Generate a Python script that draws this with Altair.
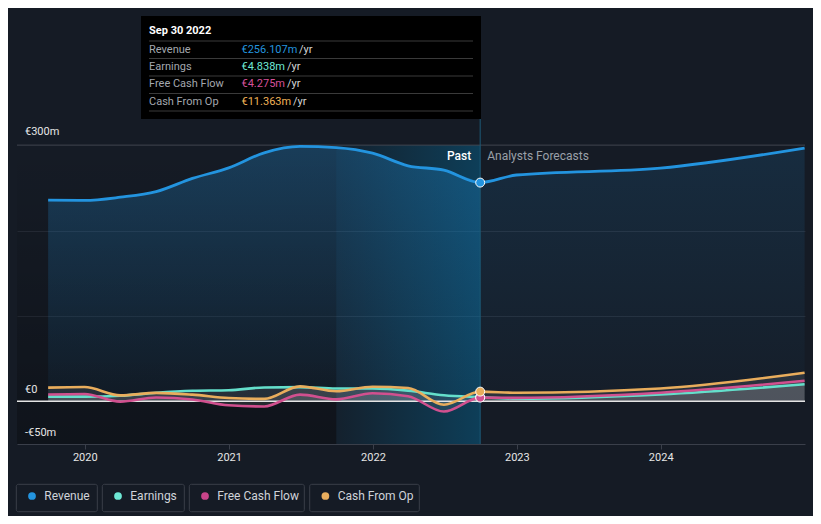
import altair as alt
import pandas as pd

# ---------------- data ----------------
dates = ["2019-09-30", "2019-12-31", "2020-03-31", "2020-06-30", "2020-09-30",
         "2020-12-31", "2021-03-31", "2021-06-30", "2021-09-30", "2021-12-31",
         "2022-03-31", "2022-06-30", "2022-09-30", "2022-12-31", "2023-12-31",
         "2024-12-31"]
revenue = [235.5, 235.3, 239.0, 245.5, 261.0, 273.4, 291.0, 298.5, 297.0, 290.5,
           275.8, 270.7, 256.107, 265.0, 273.0, 296.5]
earnings = [5.5, 5.5, 6.5, 10.0, 12.3, 13.0, 16.2, 16.6, 15.0, 15.0,
            12.5, 7.0, 4.838, 3.0, 8.0, 20.0]
free_cash_flow = [8.0, 8.6, -0.5, 4.5, 2.2, -4.7, -6.0, 7.8, 2.3, 9.4,
                  6.0, -12.0, 4.275, 4.0, 10.0, 24.0]
cash_from_op = [16.0, 16.7, 7.0, 9.9, 7.8, 3.9, 2.8, 17.5, 11.7, 17.0,
                15.6, -4.0, 11.363, 10.0, 15.0, 33.5]

series_names = ["Revenue", "Earnings", "Free Cash Flow", "Cash From Op"]
series_colors = ["#2394df", "#64dfcb", "#d1508f", "#e9ad5c"]
legend_colors = ["#2394df", "#6ee8d5", "#c8448a", "#e9ae5e"]

year_ticks = [2020, 2021, 2022, 2023, 2024]
grid_values = [100, 200]
y_label_text = ["€300m", "€0", "-€50m"]
y_label_values = [300, 0, -50]

domain_start = "2019-07-13"
highlight_start = "2021-09-30"
past_end = "2022-09-30"
tip_title = "Sep 30 2022"
tip_values = ["€256.107m", "€4.838m", "€4.275m", "€11.363m"]
tip_value_colors = ["#2394df", "#6ee8d5", "#d6509a", "#f0b257"]

FONT = "Roboto"
BG = "#151b25"

df = pd.DataFrame({"date": dates, "Revenue": revenue, "Earnings": earnings,
                   "Free Cash Flow": free_cash_flow, "Cash From Op": cash_from_op})
past_df = df[df["date"] <= past_end]
fut_df = df[df["date"] >= past_end]
last_df = df[df["date"] == past_end]

xscale = alt.Scale(domain=[alt.DateTime(year=2019, month=7, date=13),
                           alt.DateTime(year=2025, month=1, date=1)], nice=False)
yscale = alt.Scale(domain=[-50, 451.2], nice=False, zero=False)
xaxis = alt.Axis(values=[alt.DateTime(year=y, month=1, date=1) for y in year_ticks],
                 format="%Y", labelColor="#e6e6e6", labelFontSize=11, labelFont=FONT,
                 tickColor="#3a3f4a", tickSize=5, domainColor="#3a3f4a",
                 grid=False, labelPadding=2, title=None)
yaxis = alt.Axis(values=grid_values, grid=True, gridColor="#262c37", labels=False,
                 ticks=False, domain=False, title=None)


def X(field):
    return alt.X(f"{field}:T", scale=xscale, axis=xaxis)


def Y(field):
    return alt.Y(f"{field}:Q", scale=yscale, axis=yaxis, stack=None)


layers = []

# dark past region
past_rect = pd.DataFrame({"a": [domain_start], "b": [highlight_start], "t": [300], "u": [-50]})
layers.append(alt.Chart(past_rect).mark_rect(
    color=alt.Gradient(gradient="linear", x1=0, x2=0, y1=0, y2=1,
                       stops=[alt.GradientStop(color="rgba(0,0,0,0)", offset=0),
                              alt.GradientStop(color="rgba(0,0,0,0.28)", offset=1)])
).encode(x=X("a"), x2="b:T", y=Y("t"), y2="u:Q"))

# highlighted last-year band
band = pd.DataFrame({"a": [highlight_start], "b": [past_end], "t": [300], "u": [-50]})
layers.append(alt.Chart(band).mark_rect(
    color=alt.Gradient(gradient="linear", x1=0, x2=1, y1=0, y2=0,
                       stops=[alt.GradientStop(color="rgba(0,125,180,0.06)", offset=0),
                              alt.GradientStop(color="rgba(0,125,180,0.36)", offset=1)])
).encode(x=X("a"), x2="b:T", y=Y("t"), y2="u:Q"))

# top gridline
layers.append(alt.Chart(pd.DataFrame({"v": [300]})).mark_rule(
    color="#40454f", strokeWidth=1).encode(y=Y("v")))

# revenue areas
layers.append(alt.Chart(past_df).mark_area(
    interpolate="monotone",
    color=alt.Gradient(gradient="linear", x1=0, x2=0, y1=0, y2=1,
                       stops=[alt.GradientStop(color="rgba(35,148,223,0.28)", offset=0),
                              alt.GradientStop(color="rgba(35,148,223,0.04)", offset=1)])
).encode(x=X("date"), y=Y("Revenue"), y2=alt.datum(0)))
layers.append(alt.Chart(fut_df).mark_area(
    interpolate="monotone",
    color=alt.Gradient(gradient="linear", x1=0, x2=0, y1=0, y2=1,
                       stops=[alt.GradientStop(color="rgba(35,148,223,0.14)", offset=0),
                              alt.GradientStop(color="rgba(35,148,223,0.02)", offset=1)])
).encode(x=X("date"), y=Y("Revenue"), y2=alt.datum(0)))

# small series areas
for name in series_names[1:]:
    layers.append(alt.Chart(df).mark_area(
        interpolate="monotone", color="#ffffff", opacity=0.09
    ).encode(x=X("date"), y=Y(name), y2=alt.datum(0)))

# zero line
layers.append(alt.Chart(pd.DataFrame({"v": [0]})).mark_rule(
    color="#e4e4e4", strokeWidth=1.5).encode(y=Y("v")))

# vertical "now" line
layers.append(alt.Chart(pd.DataFrame({"d": [past_end]})).mark_rule(
    color="#1d5a75", strokeWidth=1).encode(x=X("d")))

# lines
for name, col in zip(series_names[1:], series_colors[1:]):
    layers.append(alt.Chart(df).mark_line(
        interpolate="monotone", color=col, strokeWidth=2.6
    ).encode(x=X("date"), y=Y(name)))
layers.append(alt.Chart(df).mark_line(
    interpolate="monotone", color=series_colors[0], strokeWidth=2.8
).encode(x=X("date"), y=Y("Revenue")))

# points at last actual
for name, col in [("Earnings", series_colors[1]), ("Free Cash Flow", series_colors[2]),
                  ("Cash From Op", series_colors[3]), ("Revenue", series_colors[0])]:
    layers.append(alt.Chart(last_df).mark_point(
        filled=True, size=80, color=col, stroke="#ffffff", strokeWidth=1, opacity=1
    ).encode(x=X("date"), y=Y(name)))

# Past / Analysts Forecasts labels
lab = pd.DataFrame({"d": [past_end], "v": [287]})
layers.append(alt.Chart(lab).mark_text(
    text="Past", align="right", baseline="middle", dx=-9, font=FONT, fontSize=12,
    color="#ffffff", fontWeight=500).encode(x=X("d"), y=Y("v")))
layers.append(alt.Chart(lab).mark_text(
    text="Analysts Forecasts", align="left", baseline="middle", dx=7, font=FONT,
    fontSize=12, color="#9aa0a8").encode(x=X("d"), y=Y("v")))

# y labels
ylab = pd.DataFrame({"t": y_label_text, "v": y_label_values})
layers.append(alt.Chart(ylab.iloc[:1]).mark_text(
    align="left", baseline="alphabetic", dy=-10, font=FONT, fontSize=11, color="#e6e6e6"
).encode(x=alt.value(8), y=Y("v"), text="t:N"))
layers.append(alt.Chart(ylab.iloc[1:]).mark_text(
    align="left", baseline="alphabetic", dy=-8, font=FONT, fontSize=11, color="#e6e6e6"
).encode(x=alt.value(8), y=Y("v"), text="t:N"))

# tooltip box
one = pd.DataFrame({"k": [0]})
layers.append(alt.Chart(one).mark_rect(color="#000000").encode(
    x=alt.value(124), x2=alt.value(464), y=alt.value(0), y2=alt.value(103)))
layers.append(alt.Chart(one).mark_text(
    text=tip_title, align="left", baseline="middle", font=FONT, fontSize=11,
    fontWeight="bold", color="#ffffff").encode(x=alt.value(132), y=alt.value(15)))
for i in range(5):
    layers.append(alt.Chart(one).mark_rule(color="#3a3a3a", strokeWidth=1).encode(
        x=alt.value(132), x2=alt.value(456), y=alt.value(25 + 17.5 * i)))
for i, (name, val, col) in enumerate(zip(series_names, tip_values, tip_value_colors)):
    yy = 33.5 + 17.4 * i
    layers.append(alt.Chart(one).mark_text(
        text=name, align="left", baseline="middle", font=FONT, fontSize=11,
        color="#a3a7ae").encode(x=alt.value(132), y=alt.value(yy)))
    layers.append(alt.Chart(one).mark_text(
        text=val, align="left", baseline="middle", font=FONT, fontSize=11,
        color=col).encode(x=alt.value(224.5), y=alt.value(yy)))
    layers.append(alt.Chart(one).mark_text(
        text="/yr", align="left", baseline="middle", font=FONT, fontSize=11,
        color="#d6d6d6").encode(x=alt.value(224.5 + 6.0 * len(val) + 3.5),
                                y=alt.value(yy)))

# legend
legend_boxes = [(-0.7, 80.3), (85.3, 167.3), (172.3, 287.3), (292.7, 402.3)]
for (x0, x1), name, col in zip(legend_boxes, series_names, legend_colors):
    layers.append(alt.Chart(one).mark_rect(
        fill=BG, stroke="#3a3f49", strokeWidth=1, cornerRadius=2).encode(
        x=alt.value(x0), x2=alt.value(x1), y=alt.value(468.3), y2=alt.value(495.7)))
    layers.append(alt.Chart(one).mark_circle(size=60, color=col, opacity=1).encode(
        x=alt.value(x0 + 15.7), y=alt.value(480)))
    layers.append(alt.Chart(one).mark_text(
        text=name, align="left", baseline="middle", font=FONT, fontSize=12,
        color="#d0d3d9").encode(x=alt.value(x0 + 28), y=alt.value(480)))

chart = alt.layer(*layers).properties(
    width=788, height=428,
    autosize=alt.AutoSizeParams(type="none"),
    padding={"left": 9, "top": 8, "right": 8, "bottom": 72},
    background=BG,
).configure_view(stroke=None)

chart.save("out.html", embed_options={"renderer": "svg", "actions": False})
